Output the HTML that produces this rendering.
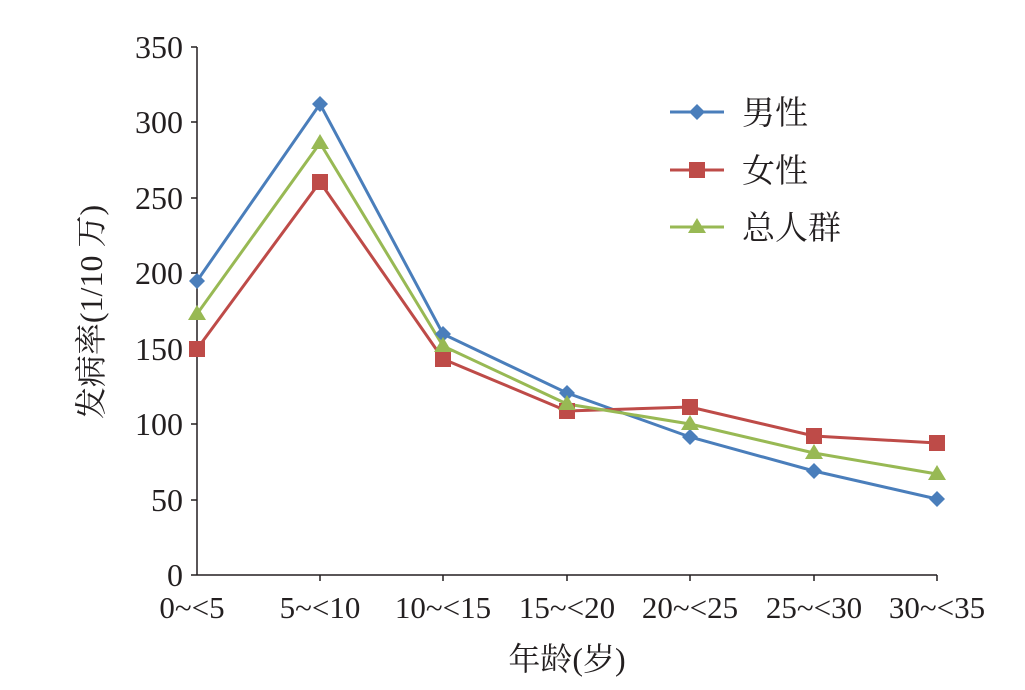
<!DOCTYPE html>
<html><head><meta charset="utf-8"><style>body{margin:0;background:#fff}</style></head><body>
<svg width="1025" height="685" xmlns="http://www.w3.org/2000/svg" font-family="'Liberation Serif','Noto Serif CJK SC',serif" fill="#231f20">
<g stroke="#231f20" stroke-width="1.5">
<line x1="197" y1="47" x2="197" y2="575"/>
<line x1="197" y1="575" x2="937" y2="575"/>
<line x1="191" y1="575" x2="197" y2="575"/>
<line x1="191" y1="500" x2="197" y2="500"/>
<line x1="191" y1="424" x2="197" y2="424"/>
<line x1="191" y1="349" x2="197" y2="349"/>
<line x1="191" y1="273" x2="197" y2="273"/>
<line x1="191" y1="198" x2="197" y2="198"/>
<line x1="191" y1="122" x2="197" y2="122"/>
<line x1="191" y1="47" x2="197" y2="47"/>
<line x1="320" y1="575" x2="320" y2="581"/>
<line x1="443" y1="575" x2="443" y2="581"/>
<line x1="567" y1="575" x2="567" y2="581"/>
<line x1="690" y1="575" x2="690" y2="581"/>
<line x1="814" y1="575" x2="814" y2="581"/>
<line x1="937" y1="575" x2="937" y2="581"/>
</g>
<g font-size="32" text-anchor="end">
<text x="183" y="586">0</text><text x="183" y="511">50</text><text x="183" y="435">100</text>
<text x="183" y="360">150</text><text x="183" y="284">200</text><text x="183" y="209">250</text>
<text x="183" y="133">300</text><text x="183" y="58">350</text>
</g>
<g font-size="31" text-anchor="middle">
<text x="192" y="618">0~&lt;5</text><text x="320" y="618">5~&lt;10</text><text x="443" y="618">10~&lt;15</text>
<text x="567" y="618">15~&lt;20</text><text x="690" y="618">20~&lt;25</text><text x="814" y="618">25~&lt;30</text>
<text x="937" y="618">30~&lt;35</text>
<text x="567" y="670" font-size="32">年龄(岁)</text>
</g>
<text transform="translate(102,312) rotate(-90)" font-size="32" text-anchor="middle">发病率(1/10 万)</text>
<polyline fill="none" stroke="#4a7ebb" stroke-width="3" points="197,281 320,104 443,334 567,393 690,437 814,471 937,499"/>
<polyline fill="none" stroke="#be4b48" stroke-width="3" points="197,349 320,182 443,359 567,411 690,407 814,436 937,443"/>
<polyline fill="none" stroke="#98b954" stroke-width="3" points="197,314 320,143 443,346 567,404 690,424 814,453 937,474"/>
<g fill="#4a7ebb">
<path d="M197,273l8,8l-8,8l-8,-8z"/><path d="M320,96l8,8l-8,8l-8,-8z"/><path d="M443,326l8,8l-8,8l-8,-8z"/>
<path d="M567,385l8,8l-8,8l-8,-8z"/><path d="M690,429l8,8l-8,8l-8,-8z"/><path d="M814,463l8,8l-8,8l-8,-8z"/>
<path d="M937,491l8,8l-8,8l-8,-8z"/><path d="M697,104l8,8l-8,8l-8,-8z"/>
</g>
<g fill="#be4b48">
<rect x="189" y="341" width="16" height="16"/><rect x="312" y="174" width="16" height="16"/><rect x="435" y="351" width="16" height="16"/>
<rect x="559" y="403" width="16" height="16"/><rect x="682" y="399" width="16" height="16"/><rect x="806" y="428" width="16" height="16"/>
<rect x="929" y="435" width="16" height="16"/><rect x="689" y="162" width="16" height="16"/>
</g>
<g fill="#98b954">
<path d="M197,305l9,15h-18z"/><path d="M320,134l9,15h-18z"/><path d="M443,337l9,15h-18z"/>
<path d="M567,395l9,15h-18z"/><path d="M690,415l9,15h-18z"/><path d="M814,444l9,15h-18z"/>
<path d="M937,465l9,15h-18z"/><path d="M697,218l9,15h-18z"/>
</g>
<line x1="670" y1="112" x2="724" y2="112" stroke="#4a7ebb" stroke-width="3"/>
<line x1="670" y1="170" x2="724" y2="170" stroke="#be4b48" stroke-width="3"/>
<line x1="670" y1="227" x2="724" y2="227" stroke="#98b954" stroke-width="3"/>
<g font-size="33" font-family="'Noto Serif CJK SC',serif">
<text x="742" y="124">男性</text><text x="742" y="182">女性</text><text x="742" y="239">总人群</text>
</g>
</svg>
</body></html>
